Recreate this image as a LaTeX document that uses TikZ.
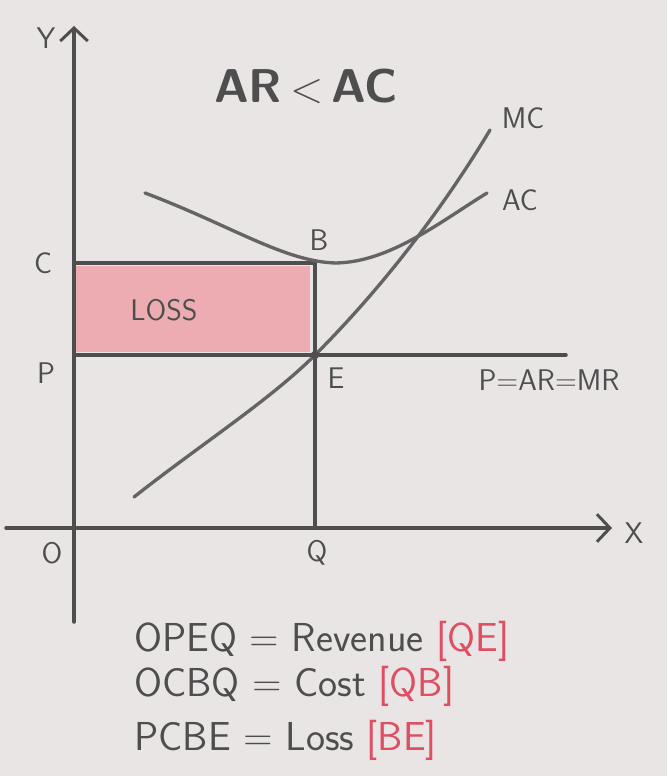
\documentclass[tikz,border=0pt]{standalone}
\usetikzlibrary{arrows.meta,positioning,calc}
\definecolor{paper}{RGB}{233,229,229}
\definecolor{lead}{RGB}{78,78,78}
\definecolor{leadlight}{RGB}{100,100,100}
\definecolor{lossfill}{RGB}{236,172,178}
\definecolor{redpen}{RGB}{224,78,98}
\begin{document}
\begin{tikzpicture}[x=0.02cm, y=-0.02cm,
  axis/.style={draw=lead, line width=2pt, line cap=round},
  guide/.style={draw=lead, line width=2pt, line cap=round},
  curve/.style={draw=leadlight, line width=1.9pt, line cap=round},
  tip/.style={-{Straight Barb[length=2.6mm, width=5.5mm, line width=1.7pt]}},
  lbl/.style={font=\sffamily\fontsize{17}{19}\selectfont, text=lead},
  note/.style={font=\sffamily\fontsize{23}{26}\selectfont, text=lead, anchor=west}]
\fill[paper] (0,0) rectangle (667,776);
% axes
\coordinate (O) at (74,528);
\coordinate (ytop) at (74,26);
\coordinate (ybot) at (74,622);
\coordinate (xleft) at (6,528);
\coordinate (xright) at (612,528);
\draw[axis, tip] (ybot) -- (ytop);
\draw[axis, tip] (xleft) -- (xright);
% price, cost and quantity points
\coordinate (C) at (74,263);
\coordinate (P) at (74,355);
\coordinate (B) at (315,263);
\coordinate (E) at (315,355);
\coordinate (Q) at (315,528);
\coordinate (Pend) at (566,355);
\fill[lossfill] ($(C)+(2,3)$) rectangle ($(E)+(-5,-3)$);
\draw[guide] (C) -- (B);
\draw[guide] (P) -- (Pend);
\draw[guide] (B) -- (Q);
% cost curves
\draw[curve] (145,193) .. controls (230,225) and (285,262) .. (336,263)
  .. controls (390,262) and (440,222) .. (487,193);
\draw[curve] (134,497) .. controls (200,445) and (270,400) .. (E)
  .. controls (385,285) and (445,205) .. (490,130);
\fill[lead] (E) circle (2.4pt);
% labels
\node[lbl] (lblY) at (46,38) {Y};
\node[lbl] (lblX) at (634,533) {X};
\node[lbl] (lblO) at (52,553) {O};
\node[lbl] (lblC) at (43,263) {C};
\node[lbl] (lblP) at (46,373) {P};
\node[lbl] (lblQ) at (317,553) {Q};
\node[lbl] (lblB) at (319,240) {B};
\node[lbl] (lblE) at (336,378) {E};
\node[lbl] (lblMC) at (523,118) {MC};
\node[lbl] (lblAC) at (520,200) {AC};
\node[lbl] (lblPAR) at (549,380) {P=AR=MR};
\node[lbl] (lblLoss) at (164,310) {LOSS};
\node[font=\sffamily\bfseries\fontsize{27}{31}\selectfont, text=lead] (title) at (306,86) {AR\,$<$\,AC};
% area notes
\node[note] (noteRev) at (128,641) {OPEQ = Revenue \textcolor{redpen}{[QE]}};
\node[note] (noteCost) at (128,686) {OCBQ = Cost \textcolor{redpen}{[QB]}};
\node[note] (noteLoss) at (128,740) {PCBE = Loss \textcolor{redpen}{[BE]}};
\end{tikzpicture}
\end{document}
